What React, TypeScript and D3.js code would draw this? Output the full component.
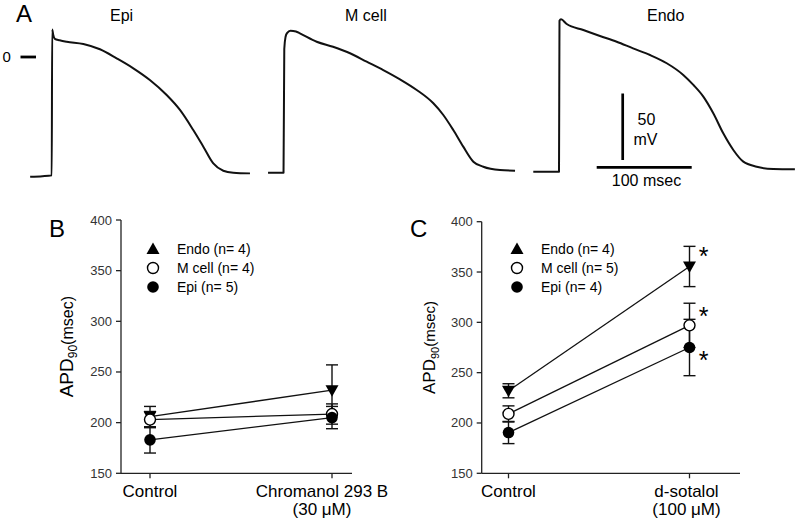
import React from "react";
import * as d3 from "d3";

// ---------- Panel A: action potential traces (t in ms from upstroke, V in mV) ----------
const epiTrace: [number, number][] = [
  [-23, -90], [-10, -89.6], [-0.3, -89], [0.2, 20.7], [1.2, 17], [3, 13.6], [8, 12.6],
  [15.5, 11.5], [33, 9.8], [50.5, 5.8], [68, -1], [85.6, -8.5], [103, -17.3],
  [120.7, -28.6], [134.7, -39.8], [148.7, -54.9], [159.3, -67.4], [169.8, -80],
  [180.3, -85.5], [190.8, -87], [208.4, -87.5],
];
const mCellTrace: [number, number][] = [
  [-16.8, -87], [-0.5, -87], [0.3, 6], [1.6, 15], [3.2, 18], [6.8, 19.8], [12.6, 19.2],
  [16.8, 17.8], [34.4, 11.5], [51.6, 7.7], [69.5, 2.8], [87, -3.5], [104.5, -9.8],
  [122.1, -16.8], [139.7, -24.8], [157.2, -34.8], [167.7, -43.6], [178.2, -54.9],
  [188.7, -67.4], [199.3, -78.7], [209.8, -82.5], [227.4, -85], [243.2, -85.5],
];
const endoTrace: [number, number][] = [
  [-27.4, -86.2], [-0.3, -86.2], [0.2, 27.3], [1.8, 28.3], [7.8, 24.8], [25.3, 20.3],
  [42.8, 15.8], [60.4, 11.5], [77.6, 6.5], [95.5, 1.5], [113.1, -4.7], [130.5, -13.5],
  [141.1, -21], [151.6, -29.8], [162.1, -42.3], [172.6, -57.4], [183.2, -69.9],
  [193.7, -78.7], [207.8, -82.5], [225.3, -84.2], [248, -84.4],
];
const traceNames = ["Epi", "M cell", "Endo"];
const scaleBarMv = 50;
const scaleBarMs = 100;

// ---------- Panels B and C: APD90 (msec), mean ± SEM ----------
const seriesNames = ["Endo", "M cell", "Epi"];
const yTicks = [150, 200, 250, 300, 350, 400];

const conditionsB = ["Control", "Chromanol 293 B"];
const conditionsBSub = ["", "(30 \u03BCM)"];
const nB = [4, 4, 5];
const endoB = [206, 232];
const endoBErr = [10, 25];
const mCellB = [203, 208.5];
const mCellBErr = [8, 10];
const epiB = [183, 205];
const epiBErr = [13, 11];

const conditionsC = ["Control", "d-sotalol"];
const conditionsCSub = ["", "(100 \u03BCM)"];
const nC = [4, 5, 4];
const endoC = [232, 355.5];
const endoCErr = [7, 20];
const mCellC = [209, 297];
const mCellCErr = [8, 22];
const epiC = [190.5, 275];
const epiCErr = [11, 28];
const significantC = [true, true, true]; // * on drug point

const FONT = "'Liberation Sans', Arial, Helvetica, sans-serif";

// ---------- Helpers ----------
const triDown = "M-6.5,-5L6.5,-5L0,6.5Z";
const triUp = "M-6.5,5L6.5,5L0,-6.5Z";

function Marker({ kind, x, y, up }: { kind: number; x: number; y: number; up?: boolean }) {
  if (kind === 0)
    return <path d={up ? triUp : triDown} transform={`translate(${x},${y})`} fill="#000" />;
  if (kind === 1)
    return <circle cx={x} cy={y} r={5.5} fill="#fff" stroke="#000" strokeWidth={1.4} />;
  return <circle cx={x} cy={y} r={5.8} fill="#000" />;
}

type PanelProps = {
  letter: string;
  letterX: number;
  axisX: number;
  xEnd: number;
  yTop: number;
  yBottom: number;
  catRange: [number, number];
  cats: string[];
  catsSub: string[];
  drugLabelDx: number;
  means: number[][];
  errs: number[][];
  ns: number[];
  legendX: number;
  titleX: number;
  titleSizes: [number, number, number];
  stars?: boolean[];
};

function Panel(p: PanelProps) {
  const y = d3.scaleLinear().domain([150, 400]).range([p.yBottom, p.yTop]);
  const x = d3.scalePoint<string>().domain(p.cats).range(p.catRange);
  const line = d3
    .line<number>()
    .x((_, i) => x(p.cats[i]) as number)
    .y((d) => y(d));
  const capW = 6;
  const starDy = [-15, -14, 7];
  const legendRows = [249, 268, 287];
  const midY = (p.yTop + p.yBottom) / 2;
  return (
    <g fontFamily={FONT}>
      <text x={p.letterX} y={237} fontSize={24}>{p.letter}</text>
      {/* y axis */}
      <line x1={p.axisX} x2={p.axisX} y1={p.yTop} y2={p.yBottom} stroke="#222" strokeWidth={1.3} />
      {yTicks.map((t) => (
        <g key={t}>
          <line x1={p.axisX - 5} x2={p.axisX} y1={y(t)} y2={y(t)} stroke="#222" strokeWidth={1.3} />
          <text x={p.axisX - 9} y={y(t) + 4.5} fontSize={13} textAnchor="end" fill="#333">{t}</text>
        </g>
      ))}
      {/* x axis */}
      <line x1={p.axisX} x2={p.xEnd} y1={p.yBottom} y2={p.yBottom} stroke="#222" strokeWidth={1.3} />
      {p.cats.map((c, i) => (
        <g key={c}>
          <line x1={x(c)} x2={x(c)} y1={p.yBottom} y2={p.yBottom + 5} stroke="#222" strokeWidth={1.3} />
          <text x={(x(c) as number) + (i === 1 ? p.drugLabelDx : 0)} y={497} fontSize={17} textAnchor="middle">{c}</text>
          {p.catsSub[i] && (
            <text x={(x(c) as number) + (i === 1 ? p.drugLabelDx : 0)} y={515} fontSize={17} textAnchor="middle">{p.catsSub[i]}</text>
          )}
        </g>
      ))}
      {/* y title */}
      <text transform={`translate(${p.titleX},${midY}) rotate(-90)`} textAnchor="middle">
        <tspan fontSize={p.titleSizes[0]}>APD</tspan>
        <tspan fontSize={p.titleSizes[1]} dy={4}>90</tspan>
        <tspan fontSize={p.titleSizes[2]} dy={-4}>(msec)</tspan>
      </text>
      {/* lines */}
      {p.means.map((m, s) => (
        <path key={`l${s}`} d={line(m) as string} fill="none" stroke="#111" strokeWidth={1.3} />
      ))}
      {/* error bars */}
      {p.means.map((m, s) =>
        m.map((v, i) => {
          const cx = x(p.cats[i]) as number;
          const e = p.errs[s][i];
          return (
            <g key={`e${s}-${i}`} stroke="#111" strokeWidth={1.4}>
              <line x1={cx} x2={cx} y1={y(v + e)} y2={y(v - e)} />
              <line x1={cx - capW} x2={cx + capW} y1={y(v + e)} y2={y(v + e)} />
              <line x1={cx - capW} x2={cx + capW} y1={y(v - e)} y2={y(v - e)} />
            </g>
          );
        })
      )}
      {/* markers */}
      {p.means.map((m, s) =>
        m.map((v, i) => <Marker key={`m${s}-${i}`} kind={s} x={x(p.cats[i]) as number} y={y(v)} />)
      )}
      {/* significance */}
      {p.stars &&
        p.stars.map((st, s) =>
          st ? (
            <text key={`s${s}`} x={(x(p.cats[1]) as number) + 14} y={y(p.means[s][1]) + starDy[s] + 14} fontSize={25} textAnchor="middle">*</text>
          ) : null
        )}
      {/* legend */}
      {seriesNames.map((nm, s) => (
        <g key={nm}>
          <Marker kind={s} x={p.legendX} y={legendRows[s]} up />
          <text x={p.legendX + 24} y={legendRows[s] + 5} fontSize={14}>{`${nm} (n= ${p.ns[s]})`}</text>
        </g>
      ))}
    </g>
  );
}

export default function App() {
  // Panel A scales
  const yV = d3.scaleLinear().domain([0, scaleBarMv]).range([57, 57 - 66.5]);
  const traceOrigins = [52, 284, 559.3];
  const traces = [epiTrace, mCellTrace, endoTrace];
  const traceLabelX = [110, 345, 647];
  const tScale = (x0: number) => d3.scaleLinear().domain([0, scaleBarMs]).range([x0, x0 + 95]);
  const barLenV = yV(0) - yV(scaleBarMv);
  const barLenT = tScale(0)(scaleBarMs) - tScale(0)(0);
  const barX = 622.7;
  const barBottom = 160;
  const hBarX = 596.7;
  const hBarY = 167.3;

  return (
    <svg width={800} height={522} style={{ position: "absolute", left: 0, top: 0, background: "#fff" }}>
      <rect width={800} height={522} fill="#fff" />
      {/* Panel A */}
      <g fontFamily={FONT}>
        <text x={16} y={22} fontSize={24}>A</text>
        {traceNames.map((nm, i) => (
          <text key={nm} x={traceLabelX[i]} y={21} fontSize={16}>{nm}</text>
        ))}
        <text x={2.5} y={62} fontSize={15}>0</text>
        <line x1={20.5} x2={36} y1={yV(0)} y2={yV(0)} stroke="#000" strokeWidth={2.8} />
        {traces.map((tr, i) => {
          const xs = tScale(traceOrigins[i]);
          const gen = d3
            .line<[number, number]>()
            .x((d) => xs(d[0]))
            .y((d) => yV(d[1]))
            .curve(d3.curveMonotoneX);
          return <path key={i} d={gen(tr) as string} fill="none" stroke="#111" strokeWidth={2} strokeLinejoin="round" />;
        })}
        {/* scale bars */}
        <line x1={barX} x2={barX} y1={barBottom} y2={barBottom - barLenV} stroke="#000" strokeWidth={2.7} />
        <line x1={hBarX} x2={hBarX + barLenT} y1={hBarY} y2={hBarY} stroke="#000" strokeWidth={2.7} />
        <text x={646.5} y={125} fontSize={16} textAnchor="middle">{scaleBarMv}</text>
        <text x={645.5} y={145} fontSize={16} textAnchor="middle">mV</text>
        <text x={646.5} y={186} fontSize={16} textAnchor="middle">{`${scaleBarMs} msec`}</text>
      </g>
      <Panel
        letter="B"
        letterX={49}
        axisX={121}
        xEnd={352}
        yTop={220}
        yBottom={473.3}
        catRange={[150, 332]}
        cats={conditionsB}
        catsSub={conditionsBSub}
        drugLabelDx={-10}
        means={[endoB, mCellB, epiB]}
        errs={[endoBErr, mCellBErr, epiBErr]}
        ns={nB}
        legendX={153}
        titleX={73}
        titleSizes={[19, 12, 16]}
      />
      <Panel
        letter="C"
        letterX={410}
        axisX={481.7}
        xEnd={740}
        yTop={221.7}
        yBottom={473.3}
        catRange={[508.5, 689.5]}
        cats={conditionsC}
        catsSub={conditionsCSub}
        drugLabelDx={-3}
        means={[endoC, mCellC, epiC]}
        errs={[endoCErr, mCellCErr, epiCErr]}
        ns={nC}
        legendX={517}
        titleX={435}
        titleSizes={[17, 11, 15]}
        stars={significantC}
      />
    </svg>
  );
}
